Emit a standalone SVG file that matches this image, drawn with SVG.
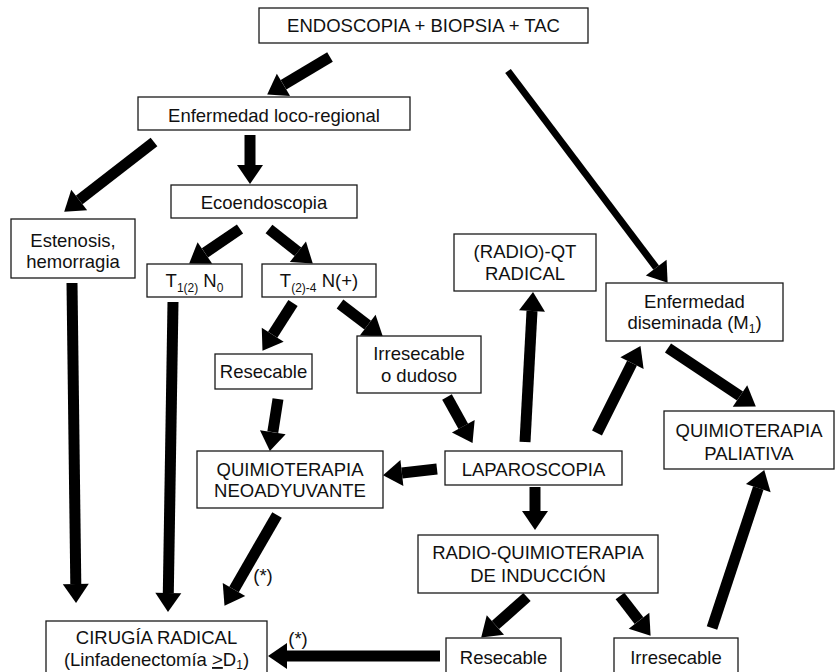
<svg xmlns="http://www.w3.org/2000/svg" width="835" height="672" viewBox="0 0 835 672">
<style>
rect.b{fill:#fff;stroke:#1a1a1a;stroke-width:1.3}
text{font-family:"Liberation Sans",Arial,sans-serif;font-size:18.5px;fill:#111;text-anchor:middle}
.s{font-size:12px}
line.a{stroke:#000;stroke-width:11;marker-end:url(#ah)}
line.t{stroke:#000;stroke-width:7;marker-end:url(#ah)}
</style>
<defs>
<marker id="ah" markerUnits="userSpaceOnUse" markerWidth="21" markerHeight="26" refX="0" refY="13" orient="auto" overflow="visible">
<path d="M0,0 L19,13 L0,26 Z" fill="#000"/>
</marker>
</defs>
<rect width="835" height="672" fill="#fff"/>
<g id="connectors">
<line class="a" x1="330" y1="57" x2="283.5" y2="84.8"/>
<line class="a" x1="250" y1="135" x2="250" y2="165"/>
<line class="a" x1="154" y1="142" x2="79.2" y2="200"/>
<line class="a" x1="240" y1="229" x2="204.9" y2="252.9"/>
<line class="a" x1="269" y1="229" x2="297.9" y2="251.8"/>
<line class="a" x1="72" y1="283" x2="75.8" y2="584"/>
<line class="a" x1="173" y1="302" x2="168.3" y2="593"/>
<line class="a" x1="293" y1="303" x2="272.7" y2="334.8"/>
<line class="a" x1="340" y1="304" x2="367.7" y2="325.1"/>
<line class="a" x1="278" y1="399" x2="272.8" y2="432.2"/>
<line class="a" x1="447" y1="397" x2="463.3" y2="426.3"/>
<line class="a" x1="525" y1="442" x2="532" y2="311"/>
<line class="a" x1="597" y1="433" x2="632" y2="363.1"/>
<line class="t" x1="508" y1="71" x2="656.2" y2="267.6"/>
<line class="a" x1="668" y1="348" x2="740" y2="396"/>
<line class="a" x1="437" y1="469" x2="401.9" y2="473"/>
<line class="a" x1="535" y1="487" x2="535" y2="511"/>
<line class="a" x1="277" y1="515" x2="234" y2="589.4"/>
<line class="a" x1="527" y1="597" x2="495.4" y2="625"/>
<line class="a" x1="620" y1="596" x2="639" y2="620.7"/>
<line class="a" x1="712" y1="628" x2="758.3" y2="488.1"/>
<line class="a" x1="440" y1="656" x2="287" y2="656"/>
<text x="263" y="582">(*)</text>
<text x="298" y="645">(*)</text>
</g>
<g id="endoscopia"><rect class="b" x="259" y="8" width="329" height="35"/><text x="423.5" y="32">ENDOSCOPIA + BIOPSIA + TAC</text></g>
<g id="locoregional"><rect class="b" x="138" y="97" width="272" height="33"/><text x="274" y="122">Enfermedad loco-regional</text></g>
<g id="ecoendoscopia"><rect class="b" x="171" y="185" width="186" height="33"/><text x="264" y="209">Ecoendoscopia</text></g>
<g id="estenosis"><rect class="b" x="11" y="219" width="124" height="59"/><text x="73" y="247">Estenosis,</text><text x="73" y="268">hemorragia</text></g>
<g id="t12n0"><rect class="b" x="147" y="264" width="95" height="33"/><text x="194.5" y="287">T<tspan class="s" dy="5">1(2)</tspan><tspan dy="-5"> N</tspan><tspan class="s" dy="5">0</tspan></text></g>
<g id="t24n"><rect class="b" x="262" y="264" width="114" height="33"/><text x="319" y="287">T<tspan class="s" dy="5">(2)-4</tspan><tspan dy="-5"> N(+)</tspan></text></g>
<g id="resecable1"><rect class="b" x="215" y="354" width="97" height="35"/><text x="263.5" y="378">Resecable</text></g>
<g id="irresecable1"><rect class="b" x="357" y="336" width="124" height="57"/><text x="419" y="360">Irresecable</text><text x="419" y="382">o dudoso</text></g>
<g id="radioqt"><rect class="b" x="454" y="234" width="142" height="57"/><text x="525" y="258">(RADIO)-QT</text><text x="525" y="280">RADICAL</text></g>
<g id="diseminada"><rect class="b" x="606" y="283" width="177" height="58"/><text x="694.5" y="308">Enfermedad</text><text x="694.5" y="329">diseminada (M<tspan class="s" dy="4">1</tspan><tspan dy="-4">)</tspan></text></g>
<g id="paliativa"><rect class="b" x="664" y="411" width="170" height="58"/><text x="749" y="437">QUIMIOTERAPIA</text><text x="749" y="460">PALIATIVA</text></g>
<g id="neoadyuvante"><rect class="b" x="197" y="451" width="186" height="57"/><text x="290" y="476">QUIMIOTERAPIA</text><text x="290" y="497">NEOADYUVANTE</text></g>
<g id="laparoscopia"><rect class="b" x="445" y="451" width="177" height="34"/><text x="533.5" y="476">LAPAROSCOPIA</text></g>
<g id="induccion"><rect class="b" x="418" y="535" width="240" height="58"/><text x="538" y="559">RADIO-QUIMIOTERAPIA</text><text x="538" y="582">DE INDUCCIÓN</text></g>
<g id="resecable2"><rect class="b" x="446" y="638" width="115" height="45"/><text x="503.5" y="664">Resecable</text></g>
<g id="irresecable2"><rect class="b" x="614" y="638" width="124" height="45"/><text x="676" y="664">Irresecable</text></g>
<g id="cirugia"><rect class="b" x="46" y="621" width="221" height="62"/><text x="156.5" y="644">CIRUGÍA RADICAL</text><text x="156.5" y="666">(Linfadenectomía <tspan style="text-decoration:underline">&gt;</tspan>D<tspan class="s" dy="2.5">1</tspan><tspan dy="-2.5">)</tspan></text></g>
</svg>
